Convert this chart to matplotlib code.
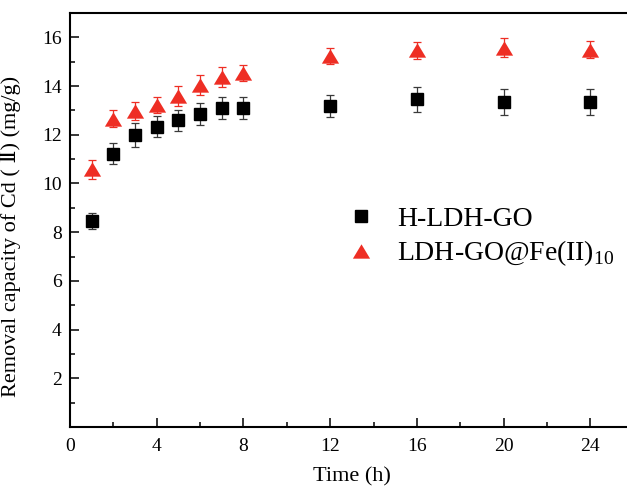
import matplotlib
matplotlib.use("Agg")
import matplotlib.pyplot as plt
from matplotlib.path import Path
from matplotlib.ticker import MultipleLocator

plt.rcParams['font.family'] = ['Liberation Serif', 'DejaVu Serif']
plt.rcParams['mathtext.fontset'] = 'custom'
plt.rcParams['mathtext.rm'] = 'Liberation Serif'

# Adsorption kinetics data
time_h = [1, 2, 3, 4, 5, 6, 7, 8, 12, 16, 20, 24]
q_hldh = [8.46, 11.22, 11.99, 12.33, 12.59, 12.84, 13.11, 13.11, 13.19, 13.45, 13.36, 13.36]
err_hldh = [0.33, 0.44, 0.48, 0.43, 0.44, 0.45, 0.45, 0.45, 0.45, 0.53, 0.53, 0.53]
q_fe = [10.58, 12.66, 12.98, 13.23, 13.60, 14.05, 14.37, 14.54, 15.23, 15.47, 15.58, 15.50]
err_fe = [0.40, 0.35, 0.38, 0.33, 0.40, 0.42, 0.40, 0.32, 0.34, 0.34, 0.38, 0.36]

label_hldh = 'H-LDH-GO'
label_fe = r'LDH-GO@Fe(II)$_{\mathrm{10}}$'

red = '#EE2E24'
# wide triangle marker
tri = Path([(-1.2, -1.0), (1.2, -1.0), (0.0, 1.0), (-1.2, -1.0)],
           [Path.MOVETO, Path.LINETO, Path.LINETO, Path.CLOSEPOLY])

fig = plt.figure(figsize=(6.27, 4.88), dpi=100)
ax = fig.add_axes([70 / 627, 61 / 488, 563.7 / 627, 414 / 488])

ax.errorbar(time_h, q_hldh, yerr=err_hldh, fmt='none', ecolor='#3a3a3a',
            elinewidth=0.9, capsize=3.2, capthick=0.9, zorder=2)
ax.errorbar(time_h, q_fe, yerr=err_fe, fmt='none', ecolor=red,
            elinewidth=0.9, capsize=3.2, capthick=0.9, zorder=2)
ax.plot(time_h, q_hldh, linestyle='none', marker='s', markersize=9.2,
        color='black', zorder=3, label=label_hldh)
ax.plot(time_h, q_fe, linestyle='none', marker=tri, markersize=12.4,
        color=red, markeredgewidth=0, zorder=3, label=label_fe)

ax.set_xlim(0, 26)
ax.set_ylim(0, 17)
ax.xaxis.set_major_locator(MultipleLocator(4))
ax.xaxis.set_minor_locator(MultipleLocator(2))
ax.yaxis.set_major_locator(MultipleLocator(2))
ax.yaxis.set_minor_locator(MultipleLocator(1))
ax.set_yticks([2, 4, 6, 8, 10, 12, 14, 16])

ax.tick_params(which='both', direction='in', top=False, right=False,
               labelsize=14, width=1.1)
ax.tick_params(which='major', length=6.5, pad=6)
ax.tick_params(axis='x', which='major', pad=8)
ax.tick_params(which='minor', length=3.6)
for s in ax.spines.values():
    s.set_linewidth(1.5)
ax.spines['right'].set_visible(False)

ax.set_xlabel('Time (h)', fontsize=16, labelpad=8.5)
ax.set_ylabel('Removal capacity of Cd ( \u2161) (mg/g)', fontsize=16)
ax.yaxis.set_label_coords(-49 / 563.7, 0.46)

leg = ax.legend(loc='upper left', bbox_to_anchor=(263 / 563.7, 1 - 182 / 414),
                frameon=False, fontsize=20, handletextpad=0.7,
                labelspacing=0.25, handlelength=1.2, borderaxespad=0)

fig.savefig('out.png', dpi=100)
